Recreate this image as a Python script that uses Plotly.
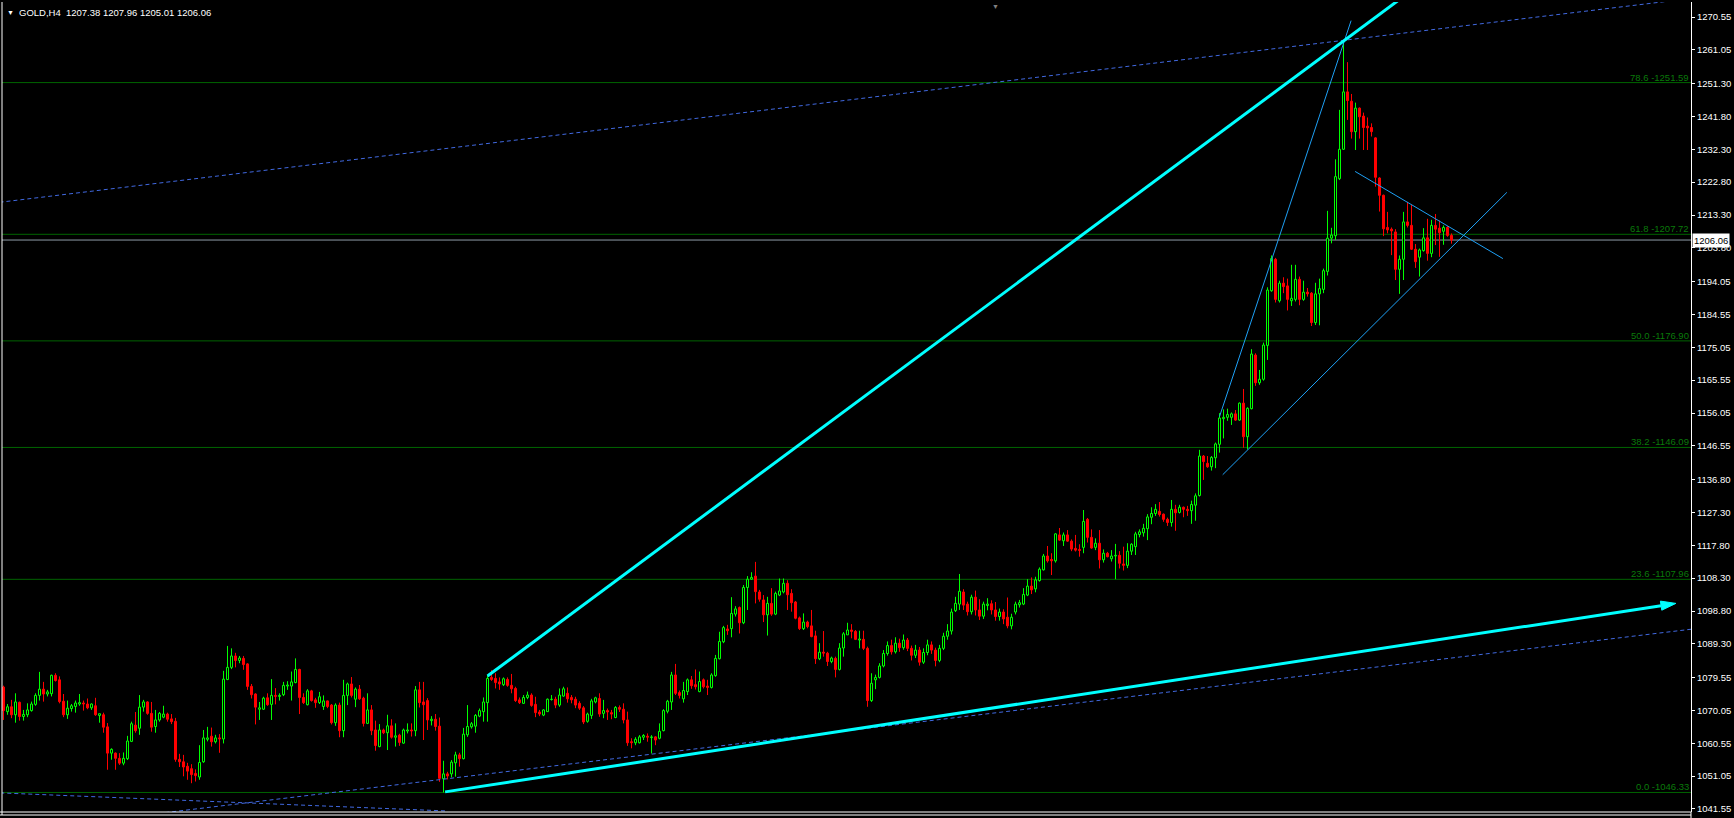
import plotly.graph_objects as go

# ---------------- data ----------------
OPEN = [
    1076.8, 1069.7, 1071.1, 1068.8, 1072.4, 1068.3, 1068.8, 1070.0, 1071.8, 1074.4,
    1076.2, 1074.8, 1074.9, 1080.2, 1078.9, 1072.7, 1068.8, 1070.6, 1071.2, 1071.9,
    1072.2, 1071.9, 1070.8, 1071.4, 1068.6, 1068.8, 1065.3, 1057.7, 1057.7, 1056.2,
    1054.8, 1056.1, 1061.1, 1065.8, 1064.9, 1071.0, 1072.5, 1069.2, 1065.4, 1067.3,
    1068.1, 1069.0, 1067.6, 1066.9, 1055.9, 1055.2, 1053.9, 1053.2, 1051.8, 1050.8,
    1055.2, 1061.7, 1062.6, 1061.0, 1062.1, 1061.8, 1079.0, 1082.5, 1085.8, 1084.5,
    1085.1, 1083.5, 1077.0, 1074.8, 1070.4, 1070.4, 1073.7, 1071.8, 1074.4, 1074.1,
    1074.6, 1077.1, 1077.1, 1078.1, 1081.9, 1073.8, 1071.7, 1075.7, 1073.1, 1072.3,
    1071.2, 1072.8, 1071.6, 1066.5, 1071.6, 1064.2, 1074.4, 1077.7, 1073.3, 1076.2,
    1073.6, 1066.3, 1070.2, 1064.4, 1059.6, 1064.4, 1063.6, 1065.6, 1062.3, 1062.9,
    1060.6, 1064.1, 1064.4, 1064.2, 1076.0, 1072.5, 1072.9, 1067.1, 1067.5, 1065.5,
    1050.3, 1051.7, 1051.7, 1054.9, 1057.2, 1056.1, 1063.0, 1065.3, 1065.5, 1068.4,
    1069.7, 1072.3, 1079.6, 1079.3, 1078.3, 1077.5, 1079.0, 1077.3, 1076.4, 1073.1,
    1072.1, 1073.8, 1074.5, 1071.8, 1069.6, 1068.7, 1069.7, 1073.2, 1073.3, 1071.6,
    1074.2, 1075.0, 1073.8, 1073.3, 1072.1, 1070.8, 1066.9, 1068.6, 1072.5, 1073.5,
    1069.2, 1070.0, 1069.4, 1068.0, 1070.9, 1070.4, 1067.3, 1061.0, 1060.7, 1060.7,
    1062.3, 1062.6, 1062.2, 1062.4, 1062.0, 1064.2, 1069.8, 1072.5, 1080.3, 1075.2,
    1073.4, 1075.5, 1078.9, 1077.5, 1075.5, 1078.9, 1077.1, 1076.7, 1080.1, 1085.0,
    1089.9, 1093.6, 1093.7, 1097.9, 1099.8, 1095.4, 1105.6, 1108.0, 1108.9, 1104.3,
    1102.0, 1097.7, 1101.0, 1097.9, 1103.4, 1104.3, 1106.8, 1103.9, 1101.4, 1096.8,
    1093.7, 1095.6, 1094.5, 1091.6, 1085.0, 1086.9, 1086.6, 1084.2, 1085.1, 1081.9,
    1088.1, 1091.9, 1093.3, 1092.9, 1090.4, 1090.6, 1088.0, 1072.9, 1078.9, 1079.6,
    1082.9, 1086.5, 1088.8, 1087.0, 1089.5, 1088.2, 1090.4, 1088.0, 1086.0, 1087.5,
    1084.0, 1086.8, 1089.0, 1087.5, 1084.5, 1088.0, 1091.5, 1093.0, 1098.9, 1100.8,
    1104.3, 1100.8, 1098.6, 1102.8, 1099.1, 1097.3, 1100.4, 1100.9, 1099.1, 1097.2,
    1098.5, 1097.0, 1094.5, 1098.5, 1100.6, 1100.8, 1103.4, 1106.0, 1105.2, 1107.6,
    1110.7, 1114.7, 1113.7, 1113.3, 1120.8, 1119.1, 1120.8, 1119.0, 1116.9, 1116.6,
    1117.2, 1125.3, 1120.1, 1117.2, 1118.4, 1113.6, 1115.5, 1113.9, 1114.7, 1114.9,
    1112.4, 1112.0, 1116.1, 1117.4, 1120.9, 1121.4, 1122.6, 1125.9, 1127.0, 1127.6,
    1126.8, 1125.3, 1124.4, 1128.2, 1127.3, 1128.8, 1128.2, 1127.8, 1129.4, 1132.2,
    1143.6, 1141.5, 1140.5, 1143.1, 1147.0, 1154.4, 1154.8, 1154.8, 1155.8, 1154.0,
    1158.9, 1149.2, 1157.3, 1172.8, 1164.8, 1165.8, 1175.6, 1191.4, 1200.5, 1188.5,
    1193.6, 1192.8, 1188.5, 1188.9, 1194.7, 1188.9, 1191.0, 1190.7, 1182.2, 1190.5,
    1191.8, 1197.0, 1206.6, 1207.3, 1223.8, 1232.3, 1248.9, 1246.2, 1237.4, 1244.2,
    1241.9, 1239.0, 1238.6, 1235.6, 1224.0, 1219.0, 1209.7, 1209.2, 1208.4, 1197.6,
    1200.5, 1211.3, 1210.3, 1203.4, 1201.1, 1203.0, 1206.7, 1202.2, 1210.3, 1209.5,
    1208.6, 1209.7, 1207.38,
]
HIGH = [
    1077.2, 1071.9, 1073.1, 1075.0, 1072.6, 1070.2, 1072.1, 1072.6, 1075.0, 1081.2,
    1078.3, 1076.0, 1080.4, 1080.8, 1079.9, 1074.8, 1072.9, 1071.9, 1072.9, 1074.8,
    1072.9, 1073.5, 1072.1, 1073.7, 1069.1, 1069.4, 1066.4, 1059.1, 1057.9, 1057.7,
    1057.9, 1062.7, 1066.8, 1069.6, 1074.5, 1073.1, 1072.7, 1072.5, 1070.2, 1069.6,
    1071.4, 1069.4, 1069.0, 1067.9, 1057.5, 1057.2, 1054.9, 1054.5, 1053.0, 1060.0,
    1064.4, 1065.3, 1065.1, 1063.0, 1063.2, 1081.5, 1088.7, 1088.0, 1086.7, 1085.8,
    1085.8, 1083.7, 1077.7, 1075.0, 1072.5, 1074.0, 1075.0, 1079.1, 1076.5, 1075.0,
    1078.3, 1078.5, 1081.3, 1085.1, 1082.1, 1075.0, 1076.2, 1076.0, 1073.7, 1075.4,
    1074.4, 1072.9, 1071.9, 1072.1, 1072.3, 1078.9, 1078.1, 1079.7, 1076.7, 1077.4,
    1074.0, 1075.0, 1071.6, 1067.1, 1066.1, 1064.8, 1068.8, 1067.5, 1066.3, 1063.3,
    1064.8, 1066.3, 1066.3, 1077.1, 1078.3, 1078.3, 1073.6, 1068.4, 1069.0, 1068.0,
    1055.5, 1052.3, 1055.7, 1058.1, 1057.8, 1065.0, 1071.6, 1066.7, 1069.0, 1070.6,
    1073.8, 1080.3, 1081.7, 1080.8, 1079.6, 1079.6, 1079.6, 1080.6, 1076.9, 1073.8,
    1074.5, 1075.5, 1075.0, 1074.0, 1070.2, 1070.4, 1073.5, 1074.5, 1074.0, 1076.4,
    1076.9, 1076.7, 1074.5, 1074.0, 1072.7, 1071.3, 1069.4, 1073.4, 1074.0, 1075.0,
    1073.1, 1070.6, 1070.2, 1071.3, 1071.5, 1072.1, 1069.7, 1062.0, 1062.3, 1062.9,
    1063.2, 1063.4, 1062.9, 1062.6, 1066.3, 1070.4, 1073.1, 1081.2, 1083.5, 1075.8,
    1078.3, 1079.3, 1080.0, 1081.9, 1081.3, 1079.3, 1078.9, 1080.8, 1086.1, 1092.8,
    1094.5, 1094.8, 1102.8, 1100.2, 1100.1, 1106.3, 1108.9, 1110.0, 1113.0, 1104.9,
    1103.4, 1102.9, 1105.4, 1104.4, 1108.2, 1108.2, 1107.7, 1105.1, 1101.7, 1097.2,
    1098.1, 1096.0, 1099.1, 1093.1, 1089.5, 1093.0, 1087.0, 1085.6, 1085.6, 1089.5,
    1092.7, 1095.4, 1095.0, 1093.3, 1093.1, 1093.1, 1088.5, 1080.8, 1080.4, 1083.7,
    1087.5, 1090.0, 1090.5, 1091.2, 1090.8, 1092.0, 1091.0, 1088.8, 1089.0, 1088.4,
    1088.0, 1090.5, 1090.0, 1088.2, 1089.0, 1092.5, 1095.0, 1099.5, 1102.9, 1109.5,
    1105.1, 1101.5, 1103.5, 1104.7, 1102.2, 1101.5, 1102.5, 1101.9, 1101.4, 1099.5,
    1099.3, 1102.7, 1098.0, 1101.5, 1102.0, 1105.4, 1108.0, 1108.5, 1108.7, 1111.4,
    1115.3, 1117.6, 1115.5, 1121.3, 1122.8, 1121.5, 1122.2, 1119.5, 1120.8, 1118.1,
    1128.0, 1125.7, 1122.4, 1119.8, 1122.2, 1116.6, 1115.9, 1116.4, 1118.2, 1116.1,
    1117.4, 1118.4, 1118.4, 1121.7, 1122.4, 1124.0, 1126.8, 1128.8, 1129.7, 1130.3,
    1127.0, 1125.8, 1130.9, 1129.5, 1129.5, 1129.0, 1129.2, 1130.7, 1132.8, 1145.4,
    1143.9, 1143.6, 1143.6, 1147.5, 1156.0, 1157.1, 1157.3, 1156.2, 1156.9, 1159.1,
    1163.0, 1157.7, 1174.5, 1173.3, 1168.5, 1176.4, 1192.4, 1201.6, 1200.9, 1194.3,
    1195.3, 1194.9, 1198.9, 1198.9, 1195.5, 1194.3, 1192.2, 1191.0, 1193.7, 1194.9,
    1197.8, 1214.5, 1209.6, 1229.4, 1243.7, 1262.9, 1257.5, 1248.3, 1245.8, 1244.4,
    1242.9, 1241.5, 1239.8, 1235.8, 1224.2, 1219.2, 1214.2, 1209.7, 1209.2, 1201.6,
    1214.2, 1217.1, 1216.2, 1204.9, 1203.6, 1209.5, 1212.2, 1211.9, 1213.6, 1211.7,
    1210.3, 1210.1, 1207.96,
]
LOW = [
    1067.3, 1068.8, 1067.8, 1066.5, 1067.1, 1067.1, 1068.1, 1069.7, 1071.4, 1072.9,
    1072.6, 1074.1, 1074.1, 1078.4, 1072.1, 1068.1, 1067.6, 1069.7, 1069.4, 1071.4,
    1070.0, 1070.4, 1070.2, 1068.5, 1066.5, 1063.6, 1052.9, 1055.8, 1052.9, 1054.3,
    1054.2, 1055.7, 1060.9, 1063.6, 1063.0, 1069.7, 1068.8, 1063.9, 1063.6, 1066.8,
    1067.8, 1066.8, 1066.1, 1055.2, 1053.7, 1051.0, 1050.0, 1049.0, 1049.5, 1050.0,
    1054.9, 1061.1, 1059.6, 1060.5, 1057.8, 1060.5, 1078.8, 1082.0, 1082.5, 1083.7,
    1081.8, 1076.0, 1073.5, 1066.0, 1067.3, 1070.2, 1071.4, 1067.3, 1071.8, 1072.9,
    1074.2, 1076.0, 1072.9, 1077.9, 1069.0, 1071.9, 1071.5, 1072.6, 1070.8, 1071.9,
    1070.2, 1070.7, 1066.0, 1065.6, 1062.3, 1062.3, 1071.6, 1073.8, 1071.0, 1073.1,
    1065.4, 1066.1, 1062.9, 1058.4, 1059.4, 1063.2, 1058.6, 1061.9, 1059.6, 1059.8,
    1060.4, 1063.4, 1062.5, 1062.6, 1070.9, 1061.5, 1064.4, 1065.7, 1064.2, 1049.4,
    1046.33, 1050.1, 1050.7, 1050.9, 1053.8, 1055.9, 1062.4, 1064.8, 1063.6, 1068.1,
    1066.8, 1066.8, 1078.6, 1076.4, 1076.0, 1077.1, 1076.9, 1075.0, 1072.5, 1071.9,
    1071.9, 1073.3, 1071.1, 1068.1, 1068.4, 1068.4, 1069.6, 1072.9, 1070.7, 1071.1,
    1074.0, 1072.3, 1072.1, 1070.7, 1070.2, 1066.1, 1066.5, 1067.6, 1072.1, 1068.2,
    1067.8, 1067.3, 1067.5, 1067.8, 1069.6, 1066.3, 1059.8, 1059.1, 1060.0, 1060.5,
    1061.5, 1061.0, 1057.6, 1060.0, 1061.7, 1064.0, 1069.2, 1070.2, 1074.5, 1073.5,
    1072.3, 1074.5, 1076.3, 1076.1, 1075.3, 1076.4, 1074.5, 1076.4, 1079.8, 1084.8,
    1089.5, 1091.9, 1091.2, 1097.2, 1092.3, 1095.0, 1099.1, 1107.8, 1101.0, 1101.5,
    1095.6, 1091.7, 1097.4, 1097.6, 1103.1, 1103.9, 1099.1, 1098.6, 1096.4, 1093.3,
    1093.3, 1093.8, 1091.2, 1083.5, 1084.6, 1085.6, 1082.9, 1083.7, 1079.6, 1081.6,
    1085.6, 1091.9, 1090.9, 1090.4, 1088.0, 1087.5, 1071.1, 1072.5, 1076.2, 1079.3,
    1082.5, 1085.9, 1086.2, 1086.5, 1087.0, 1087.6, 1087.2, 1084.5, 1085.2, 1083.0,
    1083.5, 1086.0, 1086.4, 1082.8, 1084.0, 1087.5, 1090.5, 1092.0, 1098.5, 1099.1,
    1099.1, 1097.5, 1097.8, 1097.5, 1096.2, 1096.5, 1099.0, 1097.8, 1096.0, 1096.0,
    1095.0, 1093.8, 1093.5, 1097.8, 1099.8, 1100.5, 1103.1, 1103.7, 1104.2, 1107.3,
    1110.5, 1112.8, 1109.2, 1112.8, 1119.1, 1117.6, 1118.8, 1116.1, 1116.0, 1114.5,
    1115.5, 1118.6, 1116.8, 1116.4, 1111.1, 1112.8, 1114.3, 1113.1, 1108.0, 1111.1,
    1110.5, 1111.2, 1115.0, 1115.0, 1120.1, 1120.3, 1119.3, 1123.9, 1126.3, 1126.1,
    1124.6, 1123.4, 1123.2, 1122.0, 1127.0, 1125.9, 1126.3, 1124.0, 1124.9, 1131.9,
    1136.7, 1140.2, 1139.4, 1140.1, 1144.6, 1148.7, 1153.8, 1152.6, 1153.8, 1153.8,
    1146.0, 1145.5, 1157.1, 1163.9, 1164.2, 1165.4, 1171.4, 1191.1, 1188.0, 1188.0,
    1190.7, 1185.7, 1187.0, 1188.3, 1187.2, 1188.5, 1189.7, 1181.2, 1181.5, 1181.4,
    1190.7, 1195.8, 1205.1, 1206.1, 1223.4, 1232.1, 1240.8, 1235.4, 1232.1, 1235.4,
    1232.1, 1232.1, 1236.0, 1221.5, 1214.3, 1207.2, 1208.0, 1201.7, 1194.5, 1190.5,
    1194.5, 1209.7, 1203.2, 1198.0, 1195.5, 1202.7, 1200.1, 1201.1, 1204.6, 1201.2,
    1204.7, 1207.0, 1205.01,
]
CLOSE = [
    1070.0, 1071.1, 1068.8, 1072.5, 1068.3, 1068.9, 1070.2, 1071.9, 1074.4, 1076.2,
    1074.8, 1075.4, 1080.2, 1078.7, 1072.6, 1068.8, 1070.7, 1071.4, 1072.2, 1072.3,
    1071.9, 1070.8, 1071.9, 1068.8, 1069.1, 1065.2, 1057.7, 1058.8, 1056.2, 1054.8,
    1056.2, 1061.2, 1066.2, 1064.2, 1071.0, 1072.5, 1069.2, 1065.2, 1067.3, 1069.2,
    1069.0, 1067.5, 1066.8, 1055.9, 1055.2, 1053.7, 1052.5, 1051.5, 1051.2, 1055.0,
    1062.1, 1062.1, 1061.0, 1062.1, 1061.8, 1079.1, 1082.5, 1085.8, 1084.5, 1085.2,
    1083.3, 1077.0, 1074.6, 1071.0, 1070.8, 1073.6, 1071.7, 1074.4, 1074.1, 1074.4,
    1077.3, 1077.4, 1078.3, 1081.9, 1073.8, 1072.3, 1075.7, 1072.9, 1072.3, 1074.0,
    1072.8, 1071.2, 1066.5, 1071.6, 1064.2, 1074.4, 1077.7, 1074.4, 1076.2, 1073.4,
    1066.3, 1070.2, 1064.2, 1059.9, 1064.4, 1063.6, 1065.6, 1062.3, 1062.7, 1060.8,
    1064.4, 1064.4, 1064.1, 1076.0, 1072.3, 1071.7, 1067.3, 1067.5, 1065.4, 1050.4,
    1051.7, 1051.1, 1055.1, 1057.2, 1056.1, 1063.2, 1065.4, 1066.2, 1068.6, 1070.0,
    1072.5, 1079.3, 1079.0, 1078.1, 1077.7, 1079.2, 1077.3, 1076.3, 1072.9, 1072.3,
    1073.8, 1074.5, 1071.5, 1069.4, 1069.0, 1070.2, 1073.3, 1073.3, 1071.6, 1074.5,
    1076.3, 1073.4, 1073.1, 1071.6, 1070.7, 1066.7, 1069.0, 1072.8, 1073.7, 1069.0,
    1070.0, 1069.6, 1069.0, 1070.9, 1070.4, 1067.3, 1060.7, 1060.7, 1061.7, 1062.4,
    1062.8, 1062.3, 1062.4, 1061.5, 1064.0, 1070.0, 1072.7, 1080.3, 1075.0, 1074.4,
    1075.8, 1078.9, 1077.2, 1076.9, 1078.4, 1076.9, 1076.7, 1080.3, 1085.1, 1090.0,
    1094.0, 1093.1, 1098.1, 1099.4, 1095.4, 1105.6, 1108.0, 1108.5, 1104.4, 1102.2,
    1097.7, 1101.0, 1097.9, 1103.9, 1104.6, 1106.8, 1103.5, 1101.2, 1096.7, 1093.7,
    1095.6, 1094.3, 1091.4, 1085.0, 1086.9, 1086.6, 1084.2, 1085.2, 1081.9, 1088.1,
    1092.2, 1093.3, 1092.9, 1090.6, 1090.7, 1088.0, 1072.9, 1077.9, 1079.6, 1082.9,
    1086.5, 1088.8, 1087.0, 1089.5, 1088.2, 1090.4, 1088.0, 1086.0, 1087.5, 1084.0,
    1086.8, 1089.0, 1087.5, 1084.5, 1088.0, 1091.5, 1093.0, 1098.5, 1101.0, 1104.5,
    1100.5, 1098.6, 1102.8, 1099.1, 1097.3, 1100.8, 1100.8, 1099.1, 1097.2, 1098.5,
    1096.5, 1094.5, 1097.0, 1100.8, 1101.2, 1103.6, 1106.0, 1104.9, 1107.8, 1110.9,
    1114.7, 1113.3, 1113.3, 1121.1, 1119.3, 1120.8, 1119.0, 1116.7, 1116.4, 1116.3,
    1124.7, 1120.1, 1117.0, 1118.4, 1113.6, 1115.5, 1114.5, 1114.7, 1114.9, 1112.6,
    1112.0, 1116.1, 1118.1, 1121.1, 1121.7, 1122.7, 1126.0, 1127.0, 1128.2, 1126.7,
    1125.3, 1124.4, 1128.2, 1127.2, 1128.8, 1128.2, 1127.8, 1129.6, 1132.1, 1143.6,
    1142.0, 1140.5, 1143.2, 1147.1, 1154.6, 1154.8, 1155.6, 1155.8, 1154.0, 1158.9,
    1149.2, 1157.4, 1173.1, 1164.8, 1165.8, 1175.7, 1191.6, 1200.7, 1188.9, 1193.6,
    1192.6, 1188.9, 1189.2, 1194.7, 1188.9, 1191.0, 1190.5, 1182.2, 1190.5, 1192.0,
    1197.2, 1206.6, 1207.5, 1224.4, 1232.3, 1248.9, 1246.4, 1237.4, 1244.2, 1241.7,
    1238.6, 1238.5, 1237.4, 1224.2, 1219.0, 1209.3, 1209.0, 1208.7, 1197.6, 1200.5,
    1211.3, 1210.3, 1203.4, 1199.8, 1203.2, 1206.7, 1202.2, 1210.3, 1209.2, 1208.2,
    1209.7, 1207.4, 1206.06,
]

Y_TICK_LABELS = ["1270.55", "1261.05", "1251.30", "1241.80", "1232.30", "1222.80",
                 "1213.30", "1203.80", "1194.05", "1184.55", "1175.05", "1165.55",
                 "1156.05", "1146.55", "1136.80", "1127.30", "1117.80", "1108.30",
                 "1098.80", "1089.30", "1079.55", "1070.05", "1060.55", "1051.05",
                 "1041.55"]

FIB_RATIOS = ["78.6", "61.8", "50.0", "38.2", "23.6", "0.0"]
FIB_PRICES = [1251.59, 1207.72, 1176.90, 1146.09, 1107.96, 1046.33]

LAST_PRICE = 1206.06
SYMBOL = "GOLD,H4"
LAST_BAR = ["1207.38", "1207.96", "1205.01", "1206.06"]

# trend-line anchors: (bar index, price)
UPPER_CYAN = [(121.0, 1080.0), (335.0, 1263.6)]
LOWER_CYAN = [(110.4, 1046.5), (418.1, 1101.0)]
UPPER_CHANNEL = [(-0.8, 1217.0), (335.0, 1263.8)]
LOWER_CHANNEL = [(46.2, 1041.3), (421.7, 1093.5)]
LEFT_CHANNEL = [(-0.8, 1046.2), (110.4, 1041.0)]
STEEP_LINE = [(304.0, 1155.0), (336.9, 1269.5)]
TRI_SUPPORT = [(304.8, 1138.2), (375.85, 1219.85)]
TRI_RESIST = [(337.9, 1225.9), (374.85, 1200.7)]

# ---------------- layout constants ----------------
W, H = 1734, 818
ML, MR, MT, MB = 2, 43, 2, 6
X_RANGE = [-0.375, 421.875]
Y_RANGE = [1040.68, 1274.89]
PX_X = (W - ML - MR) / (X_RANGE[1] - X_RANGE[0])
PX_Y = (H - MT - MB) / (Y_RANGE[1] - Y_RANGE[0])
FONT = "Liberation Sans, Arial, sans-serif"

BULL = "#00FF00"
BEAR = "#FF0000"
CYAN = "#00FFFF"
ROYAL = "#4169E1"
SKY = "#1EA0F5"
FIBC = "#006400"


def extend(anchors, i_from, i_to):
    (i0, p0), (i1, p1) = anchors
    k = (p1 - p0) / (i1 - i0)
    return [i_from, i_to], [p0 + k * (i_from - i0), p0 + k * (i_to - i0)]


fig = go.Figure()

# ---------------- candles ----------------
for col, is_bull in ((BULL, True), (BEAR, False)):
    xs, base, hgt, wx, wy = [], [], [], [], []
    for i, (o, h, l, c) in enumerate(zip(OPEN, HIGH, LOW, CLOSE)):
        if (c >= o) != is_bull:
            continue
        lo, hi = min(o, c), max(o, c)
        xs.append(i)
        base.append(lo)
        hgt.append(max(hi - lo, 0.05))
        wx += [i, i, None, i, i, None]
        wy += [hi, h, None, l, lo, None]
    fig.add_trace(go.Scatter(x=wx, y=wy, mode="lines",
                             line=dict(color=col, width=1),
                             hoverinfo="skip", showlegend=False))
    fig.add_trace(go.Bar(x=xs, y=hgt, base=base, width=0.5,
                         marker=dict(color="#000000" if is_bull else col,
                                     line=dict(color=col, width=1)),
                         hoverinfo="skip", showlegend=False))

# ---------------- drawn objects ----------------
def add_line(xv, yv, color, width, dash="solid"):
    fig.add_trace(go.Scatter(x=xv, y=yv, mode="lines",
                             line=dict(color=color, width=width, dash=dash),
                             hoverinfo="skip", showlegend=False))

add_line(*extend(UPPER_CHANNEL, -1.0, 422.0), ROYAL, 1, "4px,3px")
add_line(*extend(LOWER_CHANNEL, 30.0, 422.0), ROYAL, 1, "4px,3px")
add_line(*extend(LEFT_CHANNEL, LEFT_CHANNEL[0][0], LEFT_CHANNEL[1][0]), ROYAL, 1, "4px,3px")

add_line(*extend(STEEP_LINE, STEEP_LINE[0][0], STEEP_LINE[1][0]), SKY, 1)
add_line(*extend(TRI_SUPPORT, TRI_SUPPORT[0][0], TRI_SUPPORT[1][0]), SKY, 1)
add_line(*extend(TRI_RESIST, TRI_RESIST[0][0], TRI_RESIST[1][0]), SKY, 1)

add_line(*extend(UPPER_CYAN, UPPER_CYAN[0][0], 420.0), CYAN, 3)

# lower cyan arrow: line + arrow head (head geometry in pixels)
(ai0, ap0), (ai1, ap1) = LOWER_CYAN
dxp = (ai1 - ai0) * PX_X
dyp = (ap1 - ap0) * PX_Y
ln = (dxp ** 2 + dyp ** 2) ** 0.5
ux, uy = dxp / ln, dyp / ln
HEAD_L, HEAD_W = 15.0, 4.6
bi = ai1 - HEAD_L * ux / PX_X
bp = ap1 - HEAD_L * uy / PX_Y
add_line([ai0, bi], [ap0, bp], CYAN, 3)
fig.add_trace(go.Scatter(
    x=[ai1, bi - HEAD_W * uy / PX_X, bi + HEAD_W * uy / PX_X, ai1],
    y=[ap1, bp + HEAD_W * ux / PX_Y, bp - HEAD_W * ux / PX_Y, ap1],
    mode="lines", fill="toself", fillcolor=CYAN,
    line=dict(color=CYAN, width=1), hoverinfo="skip", showlegend=False))

# ---------------- horizontal lines ----------------
shapes = []
for p in FIB_PRICES:
    shapes.append(dict(type="line", xref="paper", yref="y", x0=0, x1=1, y0=p, y1=p,
                       line=dict(color=FIBC, width=1), layer="below"))
shapes.append(dict(type="line", xref="paper", yref="y", x0=0, x1=1,
                   y0=LAST_PRICE, y1=LAST_PRICE,
                   line=dict(color="#8E9AA6", width=1), layer="below"))
# window frame
PH = H - MT - MB
shapes.append(dict(type="line", xref="paper", yref="paper", x0=0, x1=0, y0=-3.0 / PH, y1=1,
                   line=dict(color="#FFFFFF", width=1)))
shapes.append(dict(type="line", xref="paper", yref="paper", x0=1, x1=1, y0=-MB / PH, y1=0,
                   line=dict(color="#FFFFFF", width=1)))
for yy in (0.0, -3.0 / PH):
    shapes.append(dict(type="line", xref="paper", yref="paper", x0=-0.002, x1=1,
                       y0=yy, y1=yy, line=dict(color="#FFFFFF", width=1)))

annotations = []
for r, p in zip(FIB_RATIOS, FIB_PRICES):
    annotations.append(dict(xref="paper", yref="y", x=1, y=p, xanchor="right",
                            yanchor="bottom", xshift=-1, yshift=-1, showarrow=False,
                            text=f"{r} -{p:.2f}", borderpad=0,
                            font=dict(family=FONT, size=9.5, color="#0A7A0A")))
annotations.append(dict(xref="paper", yref="y", x=1, y=LAST_PRICE, xanchor="left",
                        yanchor="middle", xshift=1, showarrow=False,
                        text=f"{LAST_PRICE:.2f}", bgcolor="#FFFFFF", borderpad=1,
                        font=dict(family=FONT, size=9.5, color="#000000")))
annotations.append(dict(xref="paper", yref="paper", x=0, y=1, xanchor="left",
                        yanchor="top", xshift=3, yshift=-5, showarrow=False,
                        text="\u25BC", font=dict(family=FONT, size=7, color="#FFFFFF")))
annotations.append(dict(xref="paper", yref="paper", x=0, y=1, xanchor="left",
                        yanchor="top", xshift=15, yshift=-3, showarrow=False,
                        text=SYMBOL + "\u00a0\u00a0" + " ".join(LAST_BAR),
                        font=dict(family=FONT, size=9.5, color="#FFFFFF")))
annotations.append(dict(xref="paper", yref="paper", x=(995 - ML) / (W - ML - MR), y=1,
                        xanchor="center", yanchor="top", yshift=1, showarrow=False,
                        text="\u25BC", font=dict(family=FONT, size=7, color="#808080")))

fig.update_layout(
    width=W, height=H,
    margin=dict(l=ML, r=MR, t=MT, b=MB, pad=0),
    paper_bgcolor="#000000", plot_bgcolor="#000000",
    barmode="overlay", showlegend=False,
    shapes=shapes, annotations=annotations,
    xaxis=dict(range=X_RANGE, visible=False, fixedrange=True),
    yaxis=dict(range=Y_RANGE, side="right", showgrid=False, zeroline=False,
               tickmode="array", tickvals=[float(t) for t in Y_TICK_LABELS],
               ticktext=Y_TICK_LABELS, ticks="outside", ticklen=3, tickwidth=1,
               tickcolor="#FFFFFF", showline=True, linecolor="#FFFFFF", linewidth=1,
               tickfont=dict(family=FONT, size=9.5, color="#FFFFFF"),
               fixedrange=True),
)

fig.write_html(
    "out.html",
    config={"displayModeBar": False},
    post_script="document.body.style.margin='0';document.body.style.overflow='hidden';",
)
